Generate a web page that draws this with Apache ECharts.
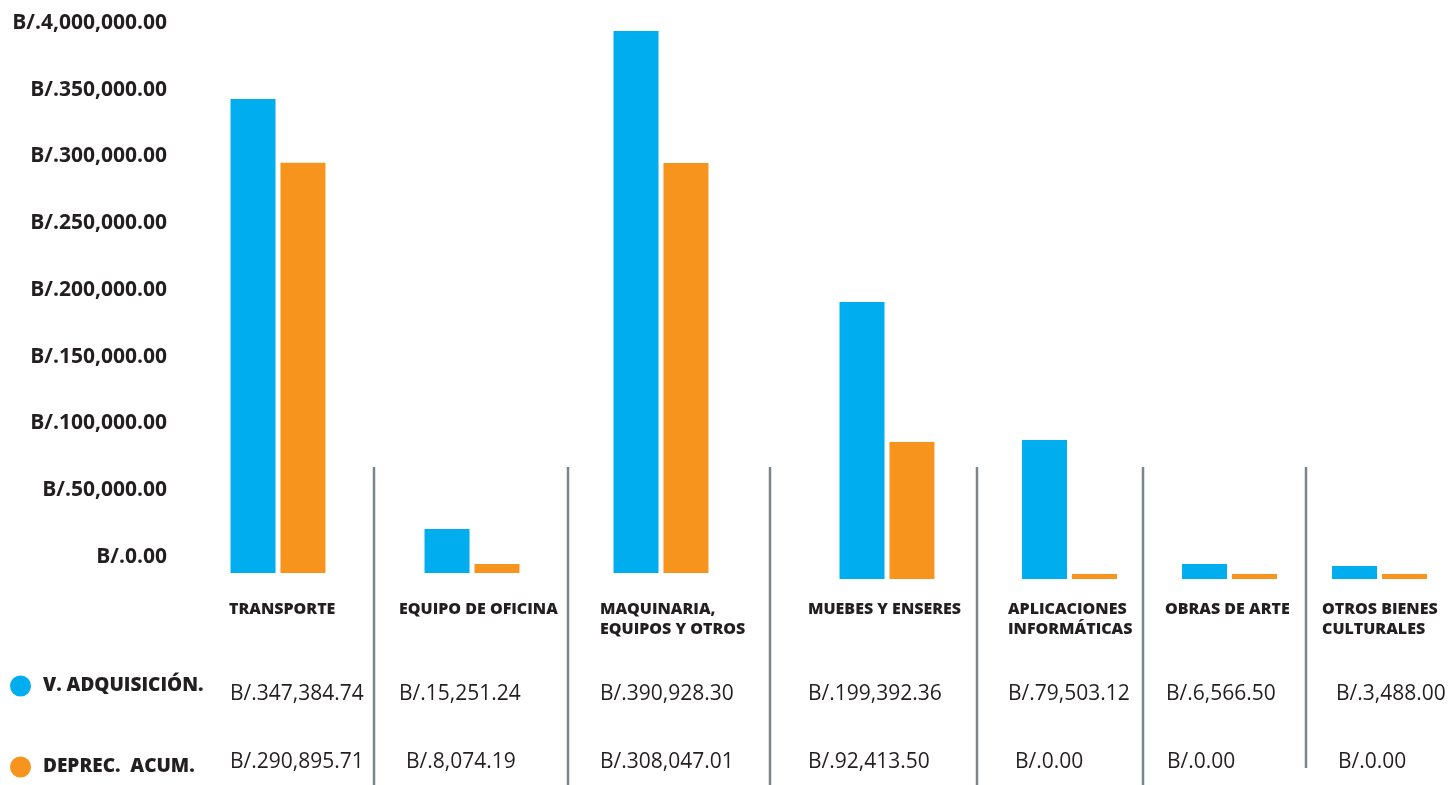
<!DOCTYPE html>
<html>
<head>
<meta charset="utf-8">
<script src="https://cdn.jsdelivr.net/npm/echarts@6/dist/echarts.min.js"></script>
<style>
html,body{margin:0;padding:0;background:#fff;}
#chart{width:1449px;height:785px;}
</style>
</head>
<body>
<div id="chart"></div>
<script>
// ---- data ----
const categories = ['TRANSPORTE', 'EQUIPO DE OFICINA', 'MAQUINARIA,\nEQUIPOS Y OTROS', 'MUEBES Y ENSERES', 'APLICACIONES\nINFORMÁTICAS', 'OBRAS DE ARTE', 'OTROS BIENES\nCULTURALES'];
const seriesNames = ['V. ADQUISICIÓN.', 'DEPREC.  ACUM.'];
// table values (as printed)
const adquisicion = [347384.74, 15251.24, 390928.30, 199392.36, 79503.12, 6566.50, 3488.00];
const depreciacion = [290895.71, 8074.19, 308047.01, 92413.50, 0.00, 0.00, 0.00];
// bar heights as drawn in the picture
const barAdquisicion = [343500, 31900, 392800, 200700, 100700, 10900, 9400];
const barDepreciacion = [297300, 6500, 297100, 99300, 3600, 3600, 3600];
const yTickLabels = ['B/.0.00', 'B/.50,000.00', 'B/.100,000.00', 'B/.150,000.00', 'B/.200,000.00', 'B/.250,000.00', 'B/.300,000.00', 'B/.350,000.00', 'B/.4,000,000.00'];

// ---- layout ----
const FONT = '"Open Sans", "Noto Sans", sans-serif';
const TXT = '#231f20';
const BLUE = '#00aeef';
const ORANGE = '#f7941e';
const groupCenters = [278, 472, 661, 887, 1069.5, 1229.5, 1379.5];
const baselines = [573, 573, 573, 579, 579, 579, 579];
const plotH = 552;
const catLabelX = [229, 399, 600, 808, 1008, 1165, 1322];
const row1X = [230, 399, 600, 808, 1008, 1166, 1336];
const row2X = [230, 406, 600, 808, 1015, 1167, 1338];
const sepX = [374, 568, 770, 977, 1143, 1306];
const sepBottom = [785, 785, 785, 785, 785, 768];

function fmt(v) {
  const parts = v.toFixed(2).split('.');
  parts[0] = parts[0].replace(/\B(?=(\d{3})+(?!\d))/g, ',');
  return 'B/.' + parts.join('.');
}

const grid = [], xAxis = [], yAxis = [], series = [];
categories.forEach((c, i) => {
  grid.push({ left: groupCenters[i] - 60, width: 120, top: baselines[i] - plotH, height: plotH });
  xAxis.push({ type: 'category', gridIndex: i, data: [c], show: false });
  yAxis.push({ type: 'value', gridIndex: i, min: 0, max: 400000, show: false });
  series.push({ type: 'bar', name: seriesNames[0], xAxisIndex: i, yAxisIndex: i, data: [barAdquisicion[i]], barWidth: 45, barGap: '11%', itemStyle: { color: BLUE } });
  series.push({ type: 'bar', name: seriesNames[1], xAxisIndex: i, yAxisIndex: i, data: [barDepreciacion[i]], barWidth: 45, barGap: '11%', itemStyle: { color: ORANGE } });
});
// label-only axis grid
const li = categories.length;
grid.push({ left: 175, width: 10, top: 23, height: 534 });
xAxis.push({ type: 'category', gridIndex: li, data: [''], show: false });
yAxis.push({
  type: 'value', gridIndex: li, min: 0, max: 400000, interval: 50000,
  axisLine: { show: false }, axisTick: { show: false }, splitLine: { show: false },
  axisLabel: {
    margin: 8, fontSize: 21, fontWeight: 'bold', color: TXT, fontFamily: FONT,
    formatter: v => yTickLabels[Math.round(v / 50000)]
  }
});

const graphic = [];
categories.forEach((c, i) => {
  graphic.push({ type: 'text', left: catLabelX[i], top: 599, silent: true,
    style: { text: c, font: '800 16px ' + FONT, fill: TXT, lineHeight: 20 } });
  graphic.push({ type: 'text', x: row1X[i], y: 694, silent: true,
    style: { text: fmt(adquisicion[i]), font: '21px ' + FONT, fill: TXT, verticalAlign: 'middle' } });
  graphic.push({ type: 'text', x: row2X[i], y: 762, silent: true,
    style: { text: fmt(depreciacion[i]), font: '21px ' + FONT, fill: TXT, verticalAlign: 'middle' } });
});
sepX.forEach((x, i) => {
  graphic.push({ type: 'line', silent: true, shape: { x1: x, y1: 467, x2: x, y2: sepBottom[i] },
    style: { stroke: '#7b858c', lineWidth: 2.5 } });
});

const chart = echarts.init(document.getElementById('chart'));
chart.setOption({
  animation: false,
  backgroundColor: '#fff',
  legend: {
    data: seriesNames, orient: 'vertical', left: 10, top: 675.5, padding: 0,
    icon: 'circle', itemWidth: 21, itemHeight: 21, itemGap: 60,
    textStyle: { fontSize: 19, fontWeight: 800, color: TXT, fontFamily: FONT, padding: [0, 0, 0, 7] }
  },
  grid, xAxis, yAxis, series, graphic
});
</script>
</body>
</html>
